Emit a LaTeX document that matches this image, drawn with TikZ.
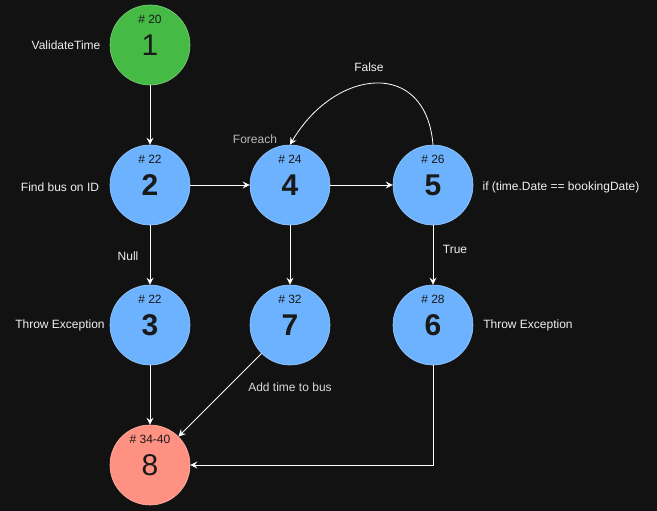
\documentclass[tikz,border=0pt]{standalone}
\usepackage{fontspec}
\setmainfont{Liberation Sans}
\usetikzlibrary{arrows.meta}
\definecolor{bg}{HTML}{121212}
\definecolor{okgreen}{HTML}{45BA45}
\definecolor{stepblue}{HTML}{6CB2FF}
\definecolor{endred}{HTML}{FF9182}

\begin{document}
\begin{tikzpicture}
[x=1pt,y=-1pt,>={Stealth[length=7pt,width=7pt,inset=2.5pt]},
 state/.style={circle,minimum size=80pt,inner sep=0pt,fill=stepblue,draw=stepblue!70!white,line width=.6pt,
   text=black!90,font=\fontsize{30}{30}\selectfont\bfseries},
 tag/.style={inner sep=0pt,text=black!90,font=\fontsize{12}{12}\selectfont},
 note/.style={inner sep=0pt,text=white!94!black,font=\fontsize{12}{12}\selectfont},
 edge/.style={draw=white,line width=.8pt,->}]
\fill[bg] (0,0) rectangle (657,511);
\useasboundingbox (0,0) rectangle (657,511);

\node[state,fill=okgreen,draw=okgreen!70!white,font=\fontsize{30}{30}\selectfont] (n1) at (150,45) {1};
\node[state] (n2) at (150,185) {2};
\node[state] (n4) at (290,185) {4};
\node[state] (n5) at (433,185) {5};
\node[state] (n3) at (150,325) {3};
\node[state] (n7) at (290,325) {7};
\node[state] (n6) at (433,325) {6};
\node[state,fill=endred,draw=endred!70!white,font=\fontsize{30}{30}\selectfont] (n8) at (150,465) {8};

% line numbers
\foreach \n/\t in {1/20,2/22,4/24,5/26,3/22,7/32,6/28,8/34-40}
  \node[tag] (t\n) at ([yshift=25.5pt]n\n.center) {\# \t};

\node[note] (l1) at (66,45) {ValidateTime};
\node[note] (l2) at (60,187) {Find bus on ID};
\node[note,text=white!72!black] (l4) at (255,139) {Foreach};
\node[note] (l5) at (561,187) {if (time.Date == bookingDate)};
\node[note] (lf) at (369,67) {False};
\node[note] (ln) at (128,256) {Null};
\node[note] (lt) at (455,249) {True};
\node[note] (l3) at (60,325) {Throw Exception};
\node[note] (l6) at (528,325) {Throw Exception};
\node[note,text=white!85!black] (l7) at (290,387) {Add time to bus};

\foreach \from/\to in {n1/n2,n2/n4,n4/n5,n2/n3,n4/n7,n5/n6,n3/n8}
\draw[edge] (\from) -- (\to);
\draw[edge] (n7.south west) -- (n8.north east);
\draw[edge] (n6.south) |- (n8.east);
\draw[edge] (n5.north) .. controls (426,58) and (335,68) .. (n4.north);

\end{tikzpicture}
\end{document}
